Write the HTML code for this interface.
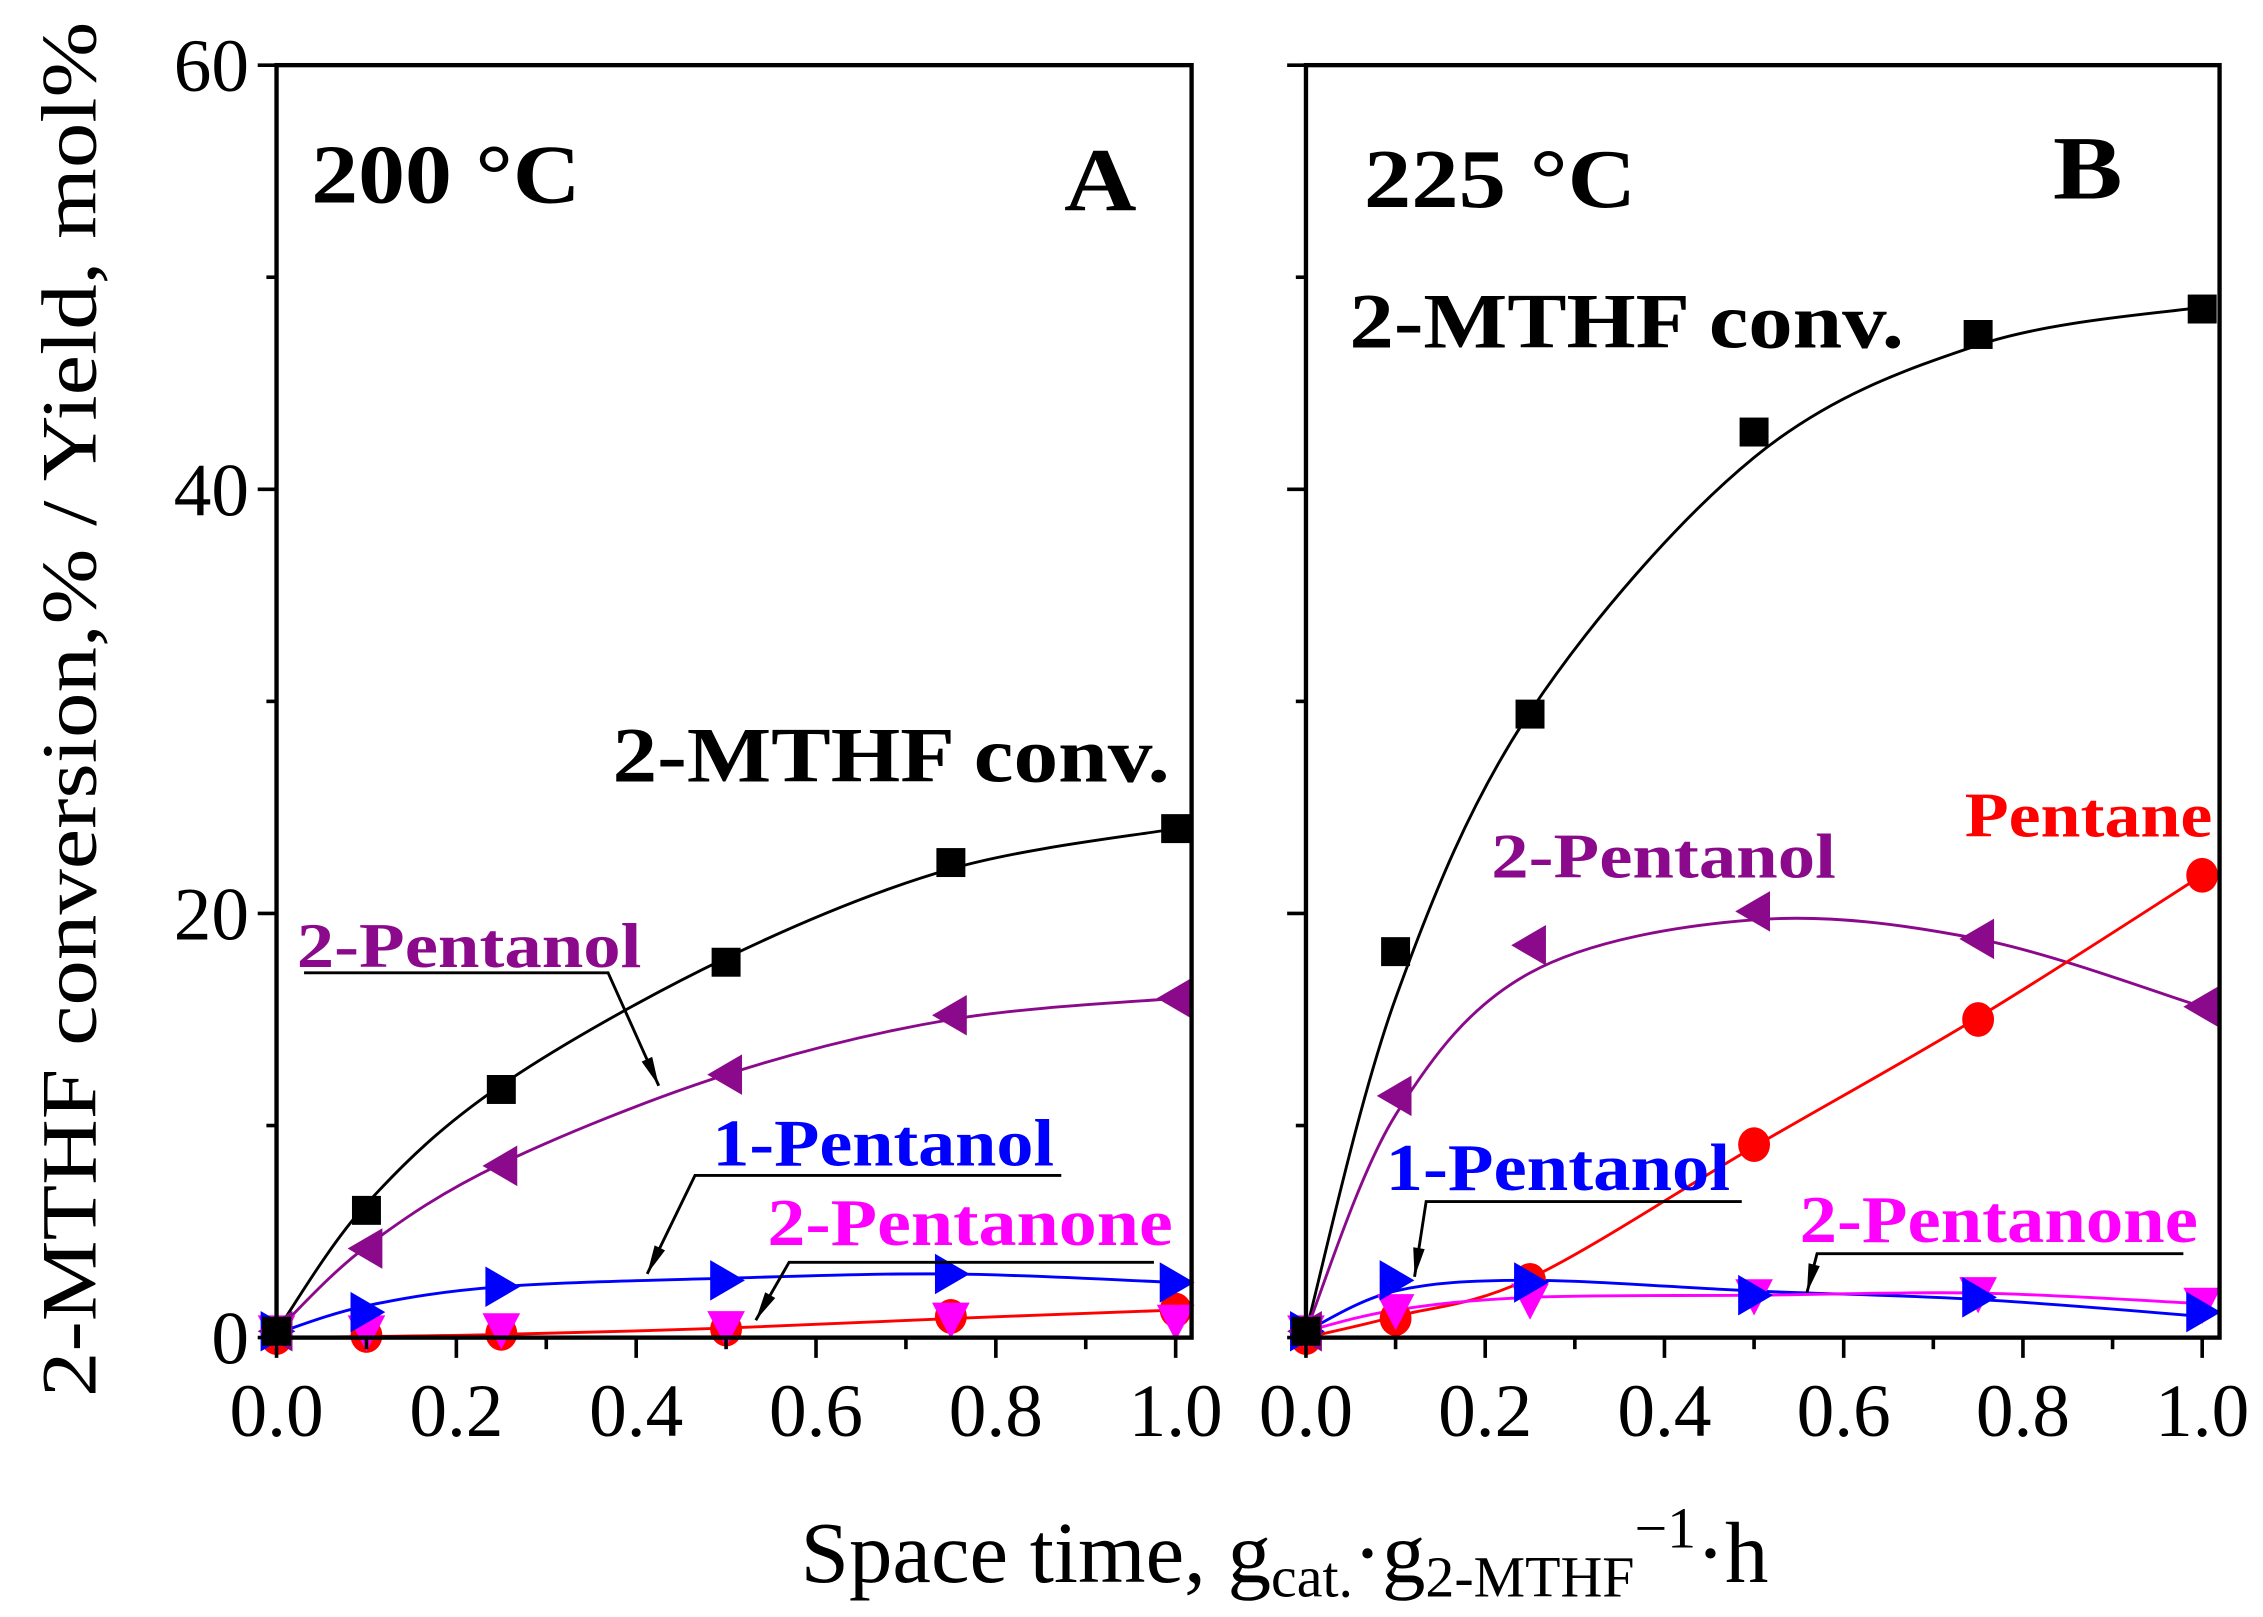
<!DOCTYPE html>
<html><head><meta charset="utf-8"><style>html,body{margin:0;padding:0;background:#fff}svg{display:block}</style></head>
<body>
<svg id="s" width="2263" height="1617" viewBox="0 0 1563 1117" preserveAspectRatio="none" xmlns="http://www.w3.org/2000/svg" font-family="Liberation Serif, serif">
<g id="g"></g>
</svg>
<script>
var NS="http://www.w3.org/2000/svg",G=document.getElementById('g');
function el(t,a,txt){var e=document.createElementNS(NS,t);for(var k in a)e.setAttribute(k,a[k]);if(txt!==undefined)e.textContent=txt;G.appendChild(e);return e;}
var Y0=924,Y60=45;function Y(v){return Y0-(Y0-Y60)*v/60;}
var panels=[{l:191,r:823,x0:191,x1:812},{l:902,r:1533,x0:902,x1:1521}];
var xs=[0,0.1,0.25,0.5,0.75,1.0];
function cr(pts){var d="M"+pts[0][0]+","+pts[0][1];for(var i=0;i<pts.length-1;i++){var p0=pts[Math.max(i-1,0)],p1=pts[i],p2=pts[i+1],p3=pts[Math.min(i+2,pts.length-1)];
d+=" C"+(p1[0]+(p2[0]-p0[0])/6)+","+(p1[1]+(p2[1]-p0[1])/6)+" "+(p2[0]-(p3[0]-p1[0])/6)+","+(p2[1]-(p3[1]-p1[1])/6)+" "+p2[0]+","+p2[1];}return d;}
function mk(type,x,y,c){
 if(type=='sq')el('rect',{x:x-10,y:y-10,width:20,height:20,fill:c});
 else if(type=='ci')el('ellipse',{cx:x,cy:y,rx:11,ry:12,fill:c});
 else if(type=='lt')el('polygon',{points:(x-13)+","+y+" "+(x+11)+","+(y-14)+" "+(x+11)+","+(y+14),fill:c});
 else if(type=='rt')el('polygon',{points:(x+13)+","+y+" "+(x-11)+","+(y-14)+" "+(x-11)+","+(y+14),fill:c});
 else if(type=='dt')el('polygon',{points:(x-13)+","+(y-11)+" "+(x+13)+","+(y-11)+" "+x+","+(y+14),fill:c});}
var data=[
 [
  {c:'#000',m:'sq',v:[0.3,6.0,11.7,17.7,22.4,24.0],f:[0.3,6.3,11.9,17.9,22.1,24.0]},
  {c:'#8b0a8b',m:'lt',v:[0.3,4.2,8.1,12.4,15.2,16.0],f:[0.3,4.3,8.2,12.4,15.0,16.0]},
  {c:'#0000ff',m:'rt',v:[0.3,1.2,2.4,2.7,3.0,2.6],f:[0.2,1.5,2.4,2.8,3.0,2.6]},
  {c:'#ff0000',m:'ci',v:[0,0.1,0.2,0.4,1.0,1.3],f:[0,0.05,0.15,0.45,0.9,1.3]},
  {c:'#ff00ff',m:'dt',v:[0.3,0.3,0.4,0.5,0.9,0.8],f:null}
 ],
 [
  {c:'#000',m:'sq',v:[0.3,18.2,29.4,42.7,47.3,48.5],f:[0.3,16.0,29.5,41.5,46.8,48.6]},
  {c:'#8b0a8b',m:'lt',v:[0.3,11.4,18.5,20.1,18.8,15.6],f:[0.3,10.5,17.2,19.7,18.8,15.6]},
  {c:'#0000ff',m:'rt',v:[0.3,2.7,2.6,2.0,1.9,1.2],f:[0.3,2.2,2.7,2.2,1.8,1.0]},
  {c:'#ff0000',m:'ci',v:[0,0.9,2.7,9.1,15.0,21.8],f:[0,1.0,2.8,9.0,15.1,21.8]},
  {c:'#ff00ff',m:'dt',v:[0.3,1.3,1.8,2.0,2.1,1.6],f:[0.3,1.3,1.9,2.0,2.1,1.6]}
 ]];
panels.forEach(function(p,pi){
 function X(x){return p.x0+(p.x1-p.x0)*x;}
 data[pi].forEach(function(s){
  if(!s.f)return;var pts=[];xs.forEach(function(x,i){pts.push([X(x),Y(s.f[i])]);});
  el('path',{d:cr(pts),fill:'none',stroke:s.c,'stroke-width':2});
 });
 [3,4,2,1,0].forEach(function(k){var s=data[pi][k];xs.forEach(function(x,i){mk(s.m,X(x),Y(s.v[i]),s.c);});});
 el('rect',{x:p.l,y:Y60,width:p.r-p.l,height:Y0-Y60,fill:'none',stroke:'#000','stroke-width':3});
 for(var i=0;i<=10;i++){var x=X(i/10);el('line',{x1:x,y1:Y0,x2:x,y2:Y0+(i%2?8:14),stroke:'#000','stroke-width':2.5});
  if(i%2==0)el('text',{x:x,y:992,'font-size':52,'text-anchor':'middle'},(i/10).toFixed(1));}
 for(var v=0;v<=60;v+=10){var y=Y(v);el('line',{x1:p.l,y1:y,x2:p.l-(v%20?7:13),y2:y,stroke:'#000','stroke-width':2.5});
  if(pi==0&&v%20==0)el('text',{x:172,y:y+18,'font-size':52,'text-anchor':'end'},v);}
});
function T(x,y,s,c,fs,w,len){var a={x:x,y:y,'font-size':fs,fill:c,'font-weight':'bold'};if(len){a.textLength=len;a.lengthAdjust='spacingAndGlyphs';}el('text',a,s);}
T(215,140,'200 °C','#000',58,0,186);
T(735,145,'A','#000',62,0,50);
T(942,143,'225 °C','#000',58,0,188);
T(1418,137,'B','#000',62,0,48);
T(423,540,'2-MTHF conv.','#000',54,0,385);
T(932,240,'2-MTHF conv.','#000',54,0,383);
T(205,668,'2-Pentanol','#8b0a8b',44,0,238);
T(492,805,'1-Pentanol','#0000ff',46,0,236);
T(530,860,'2-Pentanone','#ff00ff',46,0,280);
T(1357,578,'Pentane','#ff0000',44,0,171);
T(1030,606,'2-Pentanol','#8b0a8b',44,0,238);
T(957,822,'1-Pentanol','#0000ff',46,0,238);
T(1243,858,'2-Pentanone','#ff00ff',46,0,275);
function L(pts){var d="M"+pts.map(function(q){return q.join(',')}).join(' L');el('path',{d:d,fill:'none',stroke:'#000','stroke-width':2});
 var a=pts[pts.length-2],b=pts[pts.length-1],dx=b[0]-a[0],dy=b[1]-a[1],n=Math.hypot(dx,dy);dx/=n;dy/=n;
 var bx=b[0]-dx*20,by=b[1]-dy*20;el('polygon',{points:b[0]+","+b[1]+" "+(bx-dy*4)+","+(by+dx*4)+" "+(bx+dy*4)+","+(by-dx*4),fill:'#000'});}
L([[210,672],[420,672],[455,750]]);
L([[733,812],[480,812],[447,880]]);
L([[797,872],[545,872],[522,912]]);
L([[1203,830],[985,830],[977,882]]);
L([[1508,866],[1255,866],[1248,893]]);
el('text',{x:0,y:0,'font-size':54,'text-anchor':'middle',transform:'translate(66,490) rotate(-90)',textLength:950,lengthAdjust:'spacingAndGlyphs'},'2-MTHF conversion,% / Yield, mol%');
var xt=el('text',{x:553,y:1093,'font-size':60});
xt.innerHTML='Space time, g<tspan font-size="40" dy="10">cat.</tspan><tspan dy="-10">·g</tspan><tspan font-size="40" dy="10">2-MTHF</tspan><tspan font-size="40" dy="-34">−1</tspan><tspan dy="24">·h</tspan>';
</script>
</body></html>
